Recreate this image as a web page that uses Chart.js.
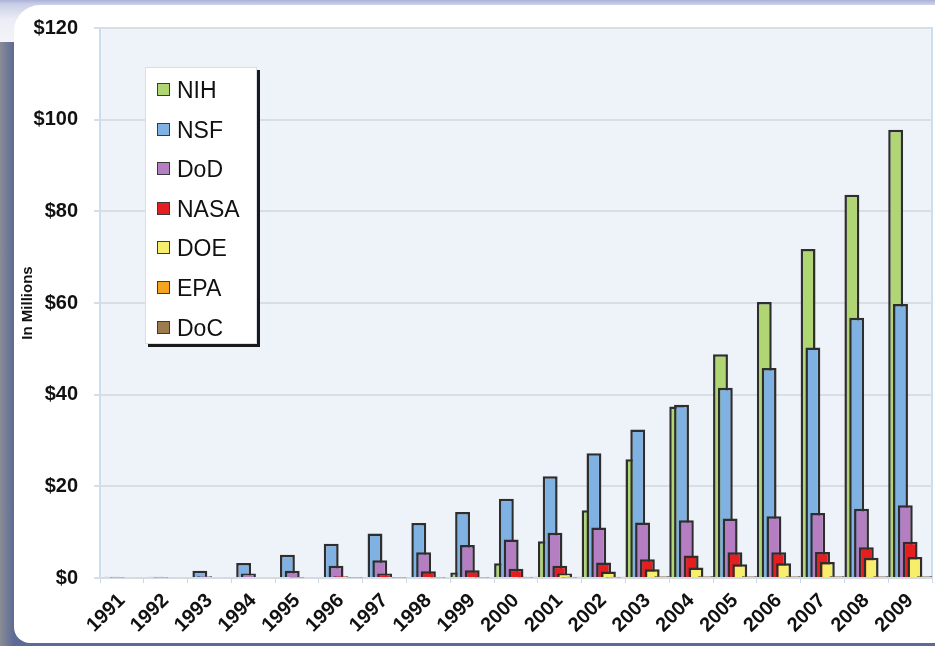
<!DOCTYPE html>
<html>
<head>
<meta charset="utf-8">
<script src="https://cdn.jsdelivr.net/npm/chart.js@4/dist/chart.umd.min.js"></script>
<style>
  html, body { margin: 0; padding: 0; }
  body { width: 935px; height: 646px; position: relative; overflow: hidden;
         background: linear-gradient(to right, #8a8c95 0px, #5c6a96 14px, #5c6a96 100%); }
  #topband { position: absolute; left: 0; top: 0; width: 935px; height: 42px;
             background: linear-gradient(to bottom, #a9b2d8 0px, #c9cee6 4px, #eceef6 20px, #f3f4f9 42px); }
  #panel { position: absolute; left: 14px; top: 5px; width: 930px; height: 638px; background: #fff;
           border-top-left-radius: 26px; border-bottom-left-radius: 16px; }
  #wrap { position: absolute; left: 0; top: 0; width: 935px; height: 646px; }
  #legend { position: absolute; left: 145px; top: 67px; width: 110px; height: 275px; background: #fff;
            border: 1px solid #d8dde6; box-shadow: 3px 3px 0 #1a1a1a; font-family: "Liberation Sans", Arial, sans-serif; }
  .item { position: absolute; left: 11px; height: 24px; line-height: 24px; font-size: 23px; color: #111; }
  .sw { display: inline-block; width: 11px; height: 11px; border: 1.5px solid #3a3a3a; vertical-align: 2px; margin-right: 7px; }
</style>
</head>
<body>
<div id="topband"></div>
<div id="panel"></div>
<div id="wrap"><canvas id="myChart" width="935" height="646"></canvas></div>
<div id="legend"></div>
<script>
var years = ['1991','1992','1993','1994','1995','1996','1997','1998','1999','2000',
             '2001','2002','2003','2004','2005','2006','2007','2008','2009']
var agencies = ['NIH','NSF','DoD','NASA','DOE','EPA','DoC']
var colors = ['#b0d673','#7fb1e2','#b57ec2','#e51f1f','#f7ee6c','#f5a41f','#9c7c4f']

var nih  = [0,0,0,0,0,0,0,0.2,1.2,3.2,8.0,14.8,25.9,37.4,48.8,60.2,71.8,83.6,97.8]
var nsf  = [0.3,0.3,1.6,3.3,5.1,7.5,9.7,12.0,14.4,17.3,22.2,27.2,32.4,37.8,41.5,45.8,50.3,56.8,59.8]
var dod  = [0.1,0.1,0.4,1.0,1.6,2.7,3.9,5.6,7.2,8.4,9.9,11.0,12.1,12.6,13.0,13.5,14.2,15.1,15.9]
var nasa = [0,0,0,0,0.1,0.4,1.0,1.5,1.7,2.0,2.7,3.4,4.1,4.9,5.6,5.6,5.7,6.7,7.9]
var doe  = [0,0,0,0,0,0,0,0,0,0.2,1.0,1.4,1.9,2.3,3.0,3.2,3.5,4.4,4.6]
var epa  = [0,0,0,0,0,0,0,0.1,0.1,0.1,0.1,0.1,0.2,0.2,0.2,0.2,0.2,0.2,0.2]
var doc  = [0,0,0,0,0,0.1,0.1,0.2,0.2,0.3,0.3,0.3,0.4,0.4,0.4,0.4,0.4,0.4,0.4]
var series = [nih, nsf, dod, nasa, doe, epa, doc]

var datasets = []
for (var i = 0; i < series.length; i++) {
    datasets.push({
        label: agencies[i],
        data: series[i],
        backgroundColor: colors[i],
        borderColor: '#2e2e2e',
        borderWidth: 2.5,
        order: series.length - 1 - i   // first agency drawn at the back
    })
}

// bars overlap like the old 3D-ish excel look: each one shifted a bit to the right
var overlapBars = {
    id: 'overlapBars',
    afterDatasetsUpdate: function(chart) {
        var xs = chart.scales.x
        var n = chart.data.datasets.length
        var catW = xs.width / years.length
        var barW = catW * 0.34
        var step = (catW - barW) / (n - 1)
        for (var d = 0; d < n; d++) {
            var meta = chart.getDatasetMeta(d)
            meta.data.forEach(function(bar, j) {
                var left = xs.getPixelForValue(j) - catW / 2
                bar.x = left + step * d + barW / 2
                bar.width = barW
            })
        }
    }
}

var plotBg = {
    id: 'plotBg',
    beforeDraw: function(chart) {
        var a = chart.chartArea
        var c = chart.ctx
        c.save()
        c.fillStyle = '#eef2f9'
        c.fillRect(a.left, a.top, a.right - a.left, a.bottom - a.top)
        c.strokeStyle = '#cddcef'
        c.lineWidth = 2
        c.strokeRect(a.left, a.top, a.right - a.left, a.bottom - a.top)
        c.restore()
    }
}

var ctx = document.getElementById('myChart').getContext('2d')
var Chart1 = new Chart(ctx, {
    type: 'bar',
    plugins: [plotBg, overlapBars],
    data: {
        labels: years,
        datasets: datasets
    },
    options: {
        responsive: false,
        animation: false,
        layout: { padding: { top: 27, right: 3, left: 0, bottom: 0 } },
        plugins: {
            legend: { display: false },
            tooltip: { enabled: false }
        },
        scales: {
            x: {
                afterFit: function(s) { s.height = 68 },
                grid: { drawOnChartArea: false, color: '#c9d9ec', tickLength: 5 },
                border: { color: '#d6dbe2', width: 2 },
                ticks: {
                    minRotation: 45, maxRotation: 45, autoSkip: false, padding: 6,
                    color: '#111',
                    font: { family: 'Liberation Sans', size: 20, weight: 'bold' }
                }
            },
            y: {
                min: 0,
                max: 120,
                afterFit: function(s) { s.width = 100 },
                grid: { color: '#d9dee5', lineWidth: 2, tickLength: 6 },
                border: { color: '#cddcef', width: 2 },
                title: {
                    display: true,
                    text: 'In Millions',
                    color: '#111',
                    padding: { top: 19, bottom: 0 },
                    font: { family: 'Liberation Sans', size: 15, weight: 'bold' }
                },
                ticks: {
                    stepSize: 20,
                    padding: 16,
                    color: '#111',
                    font: { family: 'Liberation Sans', size: 20, weight: 'bold' },
                    callback: function(v) { return '$' + v }
                }
            }
        }
    }
})

// legend box sits inside the plot, built from the same arrays
var lg = document.getElementById('legend')
for (var k = 0; k < agencies.length; k++) {
    var it = document.createElement('div')
    it.className = 'item'
    it.style.top = (10 + k * 39.6) + 'px'
    it.innerHTML = '<span class="sw" style="background:' + colors[k] + '"></span>' + agencies[k]
    lg.appendChild(it)
}
</script>
</body>
</html>
